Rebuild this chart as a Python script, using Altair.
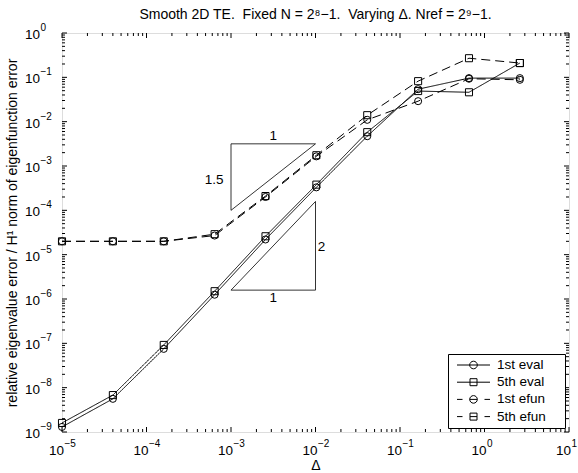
import altair as alt
import pandas as pd

# Step sizes (grid refined by a factor 4 each time)
delta = [1e-5, 4e-5, 1.6e-4, 6.4e-4, 2.56e-3, 1.024e-2, 4.096e-2, 0.16384, 0.65536, 2.62144]

# Errors for each tracked quantity
eval1 = [1.3e-9, 5.6e-9, 7.5e-8, 1.25e-6, 2.2e-5, 3.3e-4, 4.7e-3, 0.054, 0.096, 0.096]
eval5 = [1.6e-9, 6.8e-9, 9.2e-8, 1.5e-6, 2.6e-5, 3.8e-4, 5.8e-3, 0.049, 0.046, 0.21]
efun1 = [2.0e-5, 2.0e-5, 2.0e-5, 2.7e-5, 2.0e-4, 1.65e-3, 1.1e-2, 0.029, 0.093, 0.088]
efun5 = [2.0e-5, 2.0e-5, 2.0e-5, 2.9e-5, 2.1e-4, 1.75e-3, 1.4e-2, 0.082, 0.27, 0.21]

series_names = ["1st eval", "5th eval", "1st efun", "5th efun"]
series_shapes = ["circle", "square", "circle", "square"]
series_dashes = [[1, 0], [1, 0], [9, 5], [9, 5]]

# Legend glyphs: line sample with the marker in the middle; the trailing
# move-to widens the legend box to leave room after the labels.
circ = "M3.66,0A0.76,0.76,0,1,1,2.14,0A0.76,0.76,0,1,1,3.66,0"
sqr = "M2.2,-0.7H3.6V0.7H2.2Z"
pad_right = "M19.9,0"
legend_glyphs = [
    "M-0.4,0H6.2" + circ + pad_right,
    "M-0.4,0H6.2" + sqr + pad_right,
    "M-0.4,0H0.7M2.14,0H3.66M5.1,0H6.2" + circ + pad_right,
    "M-0.4,0H0.7M2.2,0H3.6M5.1,0H6.2" + sqr + pad_right,
]

# Slope triangles (vertex lists, closed)
tri_id = ["a", "a", "a", "a", "b", "b", "b", "b"]
tri_order = [0, 1, 2, 3, 0, 1, 2, 3]
tri_x = [1e-3, 1e-3, 1e-2, 1e-3, 1e-3, 1e-2, 1e-2, 1e-3]
tri_y = [1e-4, 10 ** -2.5, 10 ** -2.5, 1e-4, 10 ** -5.8, 10 ** -5.8, 10 ** -3.8, 10 ** -5.8]

# Slope annotations
note_text = ["1", "1.5", "2", "1"]
note_x = [10 ** -2.5, 10 ** -3.2, 10 ** -1.93, 10 ** -2.5]
note_y = [10 ** -2.33, 10 ** -3.31, 10 ** -4.82, 10 ** -5.98]

# Axis ticks and labels (base "10" plus a raised exponent)
x_major = [1e-5, 1e-4, 1e-3, 1e-2, 1e-1, 1e0, 1e1]
x_exp = ["−5", "−4", "−3", "−2", "−1", "0", "1"]
y_major = [1e-9, 1e-8, 1e-7, 1e-6, 1e-5, 1e-4, 1e-3, 1e-2, 1e-1, 1e0]
y_exp = ["−9", "−8", "−7", "−6", "−5", "−4", "−3", "−2", "−1", "0"]
x_minor = [k * 10.0 ** e for e in range(-5, 1) for k in range(2, 10)]
y_minor = [k * 10.0 ** e for e in range(-9, 0) for k in range(2, 10)]

W, H = 507, 399
FONT = "Liberation Sans"
BASE_SIZE = 13.5
EXP_SIZE = 10

rows = []
for name, vals in zip(series_names, [eval1, eval5, efun1, efun5]):
    for d, v in zip(delta, vals):
        rows.append({"series": name, "delta": d, "err": v})
df = pd.DataFrame(rows)

tri_df = pd.DataFrame({"tri": tri_id, "ord": tri_order, "x": tri_x, "y": tri_y})
note_df = pd.DataFrame({"t": note_text, "x": note_x, "y": note_y})
xlab_df = pd.DataFrame({"v": x_major, "base": ["10"] * len(x_major), "e": x_exp})
ylab_df = pd.DataFrame({"v": y_major, "base": ["10"] * len(y_major), "e": y_exp})

x_scale = alt.Scale(type="log", domain=[1e-5, 1e1], nice=False)
y_scale = alt.Scale(type="log", domain=[1e-9, 1e0], nice=False)

x_axis = alt.Axis(
    labels=False, ticks=False, domain=False, grid=False,
    title="Δ", titleFontSize=14, titleFont=FONT, titleFontWeight="normal",
    titlePadding=26, titleColor="black",
)
y_axis = alt.Axis(
    labels=False, ticks=False, domain=False, grid=False,
    title="relative eigenvalue error / H¹ norm of eigenfunction error",
    titleFontSize=14, titleFont=FONT, titleFontWeight="normal", titleColor="black",
    titlePadding=43,
)

base = alt.Chart(df)

lines = base.mark_line(color="black", strokeWidth=1).encode(
    x=alt.X("delta:Q", scale=x_scale, axis=x_axis),
    y=alt.Y("err:Q", scale=y_scale, axis=y_axis),
    detail="series:N",
    strokeDash=alt.StrokeDash(
        "series:N", scale=alt.Scale(domain=series_names, range=series_dashes), legend=None
    ),
)

points = base.mark_point(filled=False, color="black", size=50, strokeWidth=1, opacity=1).encode(
    x=alt.X("delta:Q", scale=x_scale),
    y=alt.Y("err:Q", scale=y_scale),
    shape=alt.Shape(
        "series:N", scale=alt.Scale(domain=series_names, range=series_shapes), legend=None
    ),
)

legend_layer = base.mark_point(filled=False, color="black", strokeWidth=1, opacity=1).encode(
    shape=alt.Shape(
        "series:N",
        scale=alt.Scale(domain=series_names, range=legend_glyphs),
        legend=alt.Legend(
            title=None, orient="bottom-right", offset=4, padding=4.25,
            strokeColor="black", fillColor="white", cornerRadius=0,
            symbolSize=100, symbolStrokeWidth=1, symbolStrokeColor="black",
            symbolFillColor="transparent", symbolOffset=0,
            labelFont=FONT, labelFontSize=BASE_SIZE, labelColor="black",
            labelOffset=31.25, rowPadding=2.2,
        ),
    ),
).transform_filter("false")

triangles = alt.Chart(tri_df).mark_line(color="black", strokeWidth=0.8).encode(
    x=alt.X("x:Q", scale=x_scale),
    y=alt.Y("y:Q", scale=y_scale),
    detail="tri:N",
    order="ord:Q",
)

notes = alt.Chart(note_df).mark_text(
    font=FONT, fontSize=BASE_SIZE, color="black", align="center", baseline="middle"
).encode(
    x=alt.X("x:Q", scale=x_scale),
    y=alt.Y("y:Q", scale=y_scale),
    text="t:N",
)

# Tick labels along the bottom edge
xl = alt.Chart(xlab_df)
x_base_txt = xl.mark_text(
    font=FONT, fontSize=BASE_SIZE, color="black", align="right", baseline="alphabetic", dx=2
).encode(x=alt.X("v:Q", scale=x_scale), y=alt.value(H + 23), text="base:N")
x_exp_txt = xl.mark_text(
    font=FONT, fontSize=EXP_SIZE, color="black", align="left", baseline="alphabetic", dx=2.5
).encode(x=alt.X("v:Q", scale=x_scale), y=alt.value(H + 15), text="e:N")

# Tick labels along the left edge
yl = alt.Chart(ylab_df)
y_base_txt = yl.mark_text(
    font=FONT, fontSize=BASE_SIZE, color="black", align="right", baseline="alphabetic", dy=6
).encode(y=alt.Y("v:Q", scale=y_scale), x=alt.value(-22), text="base:N")
y_exp_txt = yl.mark_text(
    font=FONT, fontSize=EXP_SIZE, color="black", align="left", baseline="alphabetic", dy=-2
).encode(y=alt.Y("v:Q", scale=y_scale), x=alt.value(-21.5), text="e:N")


def xticks(vals, length):
    d = pd.DataFrame({"v": vals})
    b = alt.Chart(d).mark_rule(color="black", strokeWidth=1)
    bottom = b.encode(x=alt.X("v:Q", scale=x_scale), y=alt.value(H), y2=alt.value(H - length))
    top = b.encode(x=alt.X("v:Q", scale=x_scale), y=alt.value(0), y2=alt.value(length))
    return [bottom, top]


def yticks(vals, length):
    d = pd.DataFrame({"v": vals})
    b = alt.Chart(d).mark_rule(color="black", strokeWidth=1)
    left = b.encode(y=alt.Y("v:Q", scale=y_scale), x=alt.value(0), x2=alt.value(length))
    right = b.encode(y=alt.Y("v:Q", scale=y_scale), x=alt.value(W), x2=alt.value(W - length))
    return [left, right]


tick_layers = xticks(x_major, 5) + xticks(x_minor, 3) + yticks(y_major, 5) + yticks(y_minor, 3)

chart = alt.layer(
    triangles, lines, points, notes, x_base_txt, x_exp_txt, y_base_txt, y_exp_txt,
    *tick_layers, legend_layer
).resolve_scale(
    shape="independent", strokeDash="independent"
).properties(
    width=W, height=H,
    title=alt.TitleParams(
        "Smooth 2D TE.\u00a0 Fixed N = 2⁸−1.\u00a0 Varying Δ. Nref = 2⁹−1.",
        font=FONT, fontSize=14, fontWeight="normal", color="black",
        anchor="middle", offset=1,
    ),
    autosize=alt.AutoSizeParams(type="none"),
    padding={"left": 62, "top": 33, "right": 9, "bottom": 41},
).configure_view(
    stroke="black", strokeWidth=1
).configure(
    background="white"
)

chart.save("out.html", embed_options={"renderer": "svg", "actions": False})
